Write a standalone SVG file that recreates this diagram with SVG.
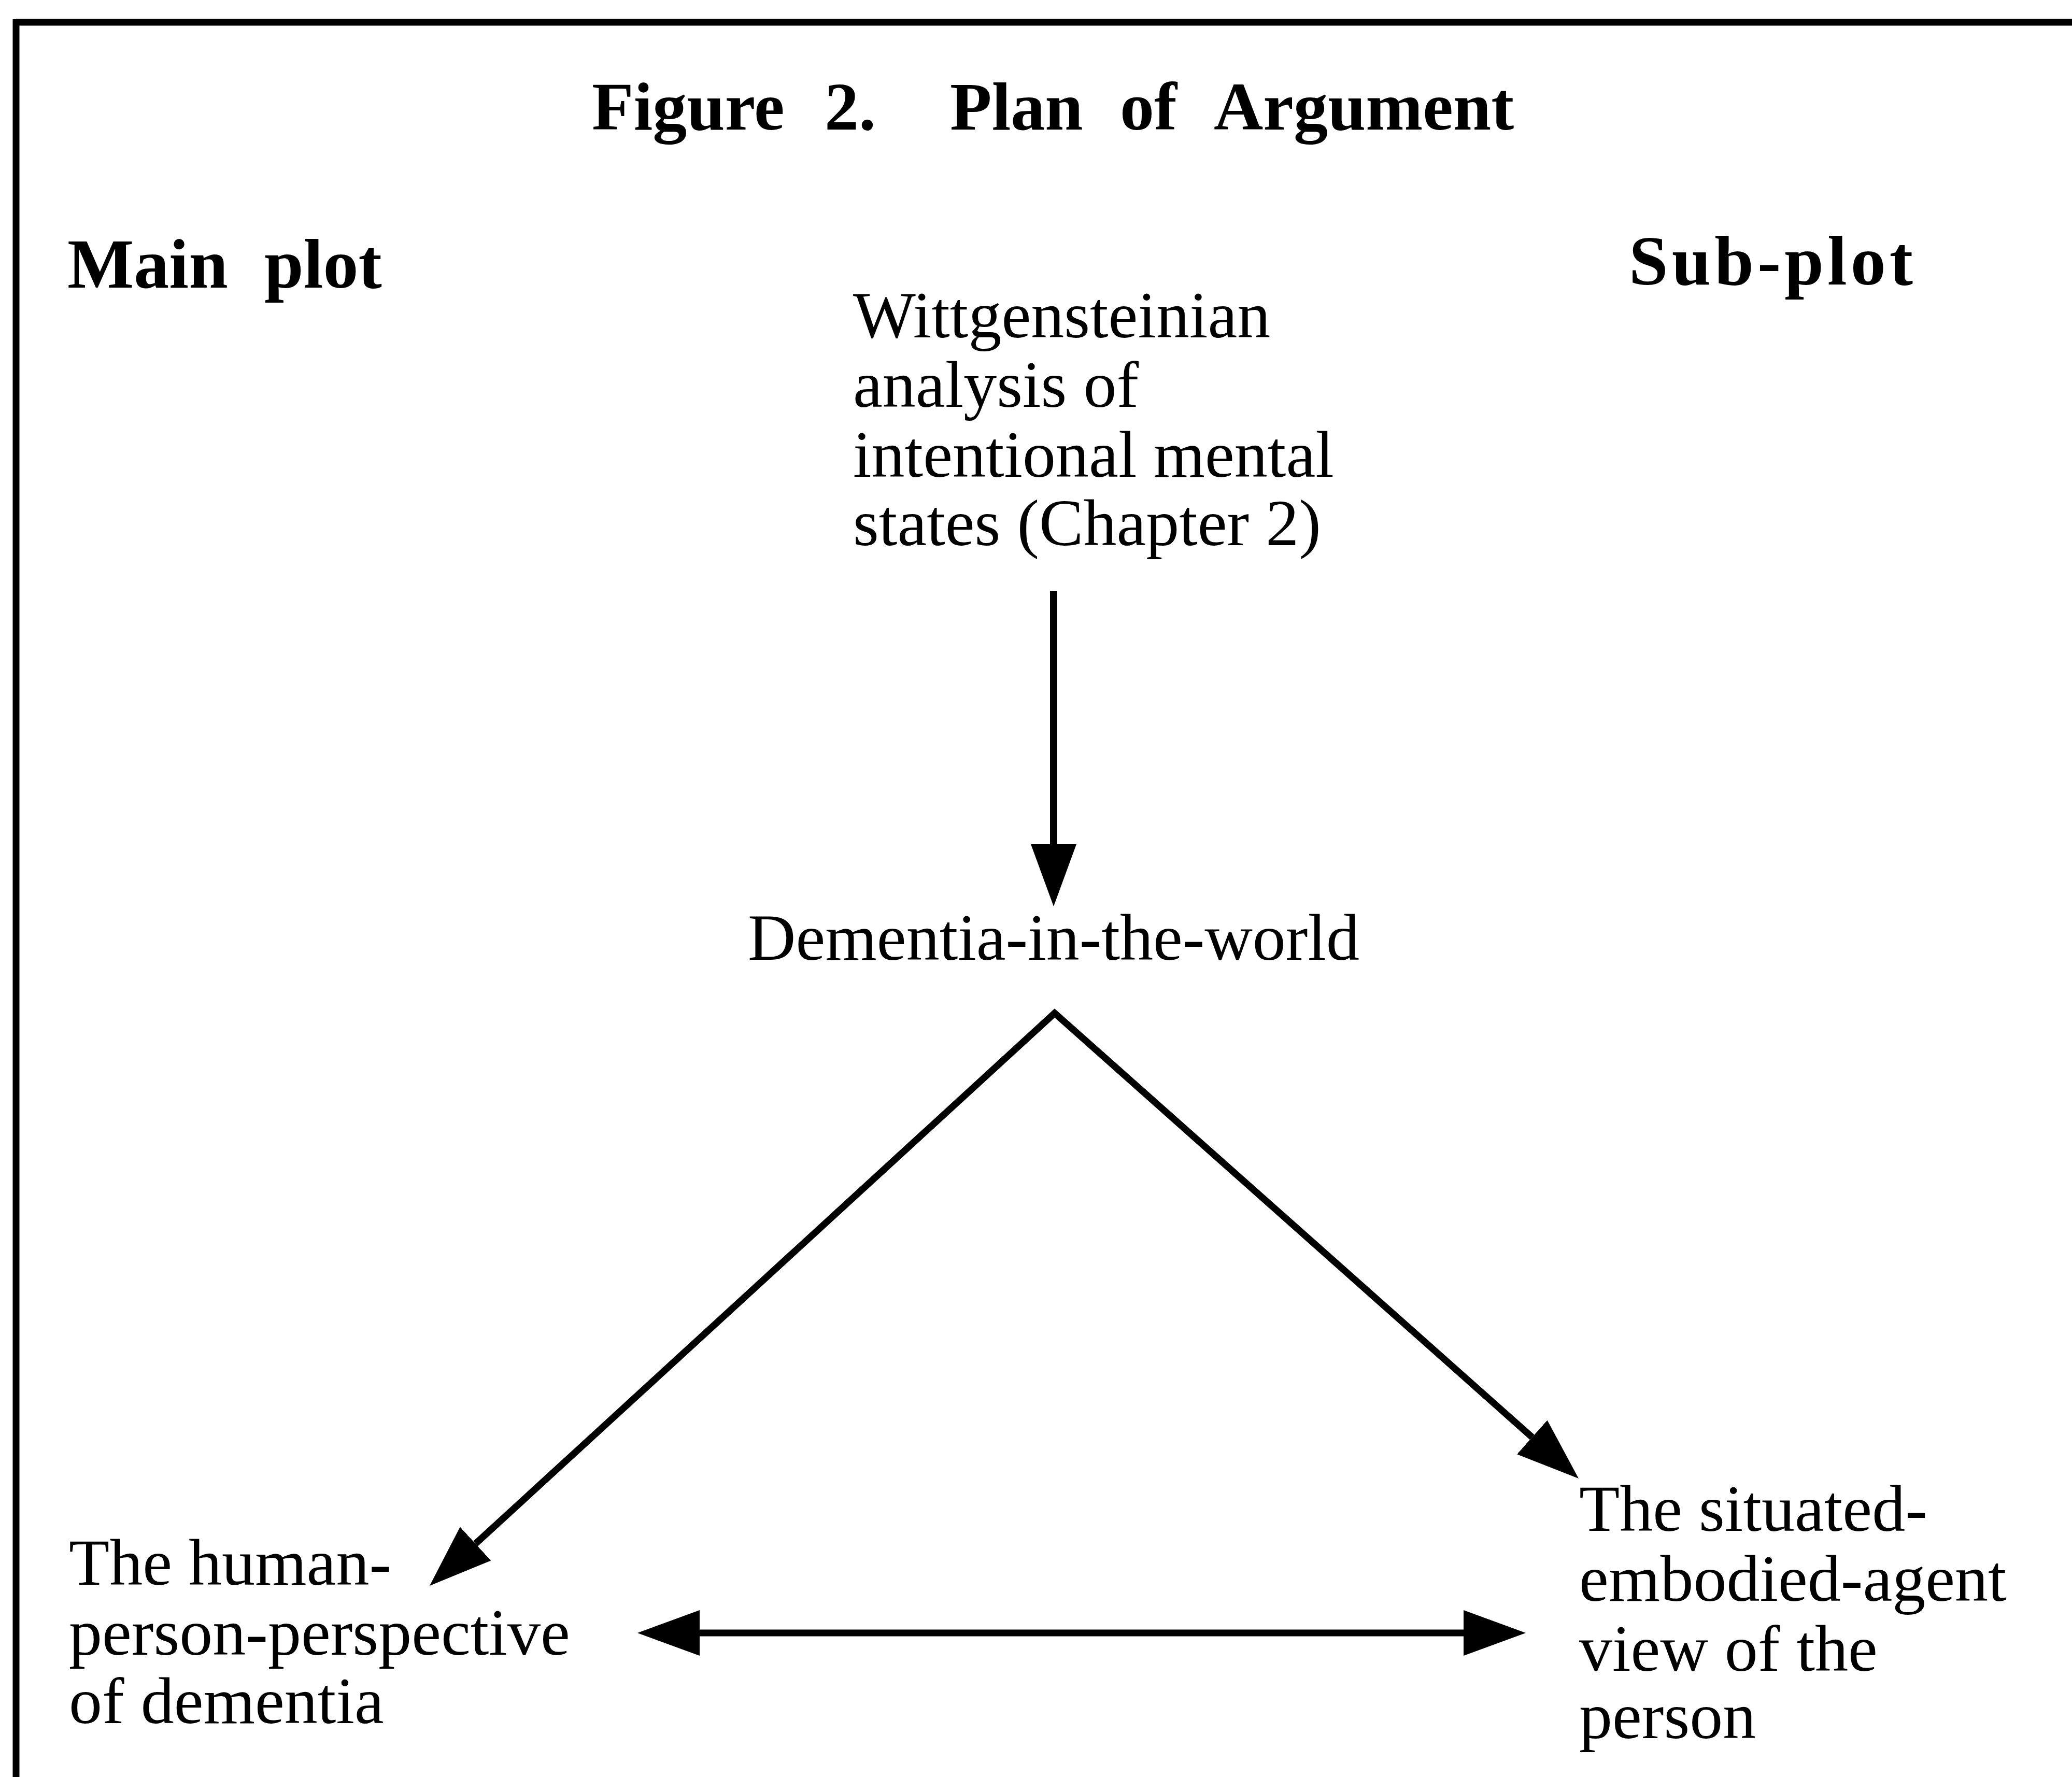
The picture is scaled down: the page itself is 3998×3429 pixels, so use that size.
<svg xmlns="http://www.w3.org/2000/svg" width="3998" height="3429" viewBox="0 0 3998 3429">
<style>
.bg{fill:#ffffff}
.frame{stroke:#000;stroke-width:13;fill:none}
.t{font-family:"Liberation Serif","Times New Roman",serif;font-size:128px;fill:#000}
.b{font-family:"Liberation Serif","Times New Roman",serif;font-weight:bold;fill:#000}
.edge{stroke:#000;stroke-width:13;fill:none;stroke-linejoin:miter}
</style>
<defs>
<marker id="head" viewBox="0 0 120 88" refX="0" refY="44" markerWidth="120" markerHeight="88" markerUnits="userSpaceOnUse" orient="auto-start-reverse">
<path d="M0,0 L120,44 L0,88 z" fill="#000"/>
</marker>
</defs>
<rect class="bg" x="0" y="0" width="3998" height="3429"/>
<g id="frame">
<line class="frame" x1="31" y1="43" x2="3998" y2="43"/>
<line class="frame" x1="31" y1="37" x2="31" y2="3429"/>
</g>
<g id="title">
<text class="b" font-size="132" y="250"><tspan x="1142">Figure</tspan><tspan x="1591">2.</tspan><tspan x="1833">Plan</tspan><tspan x="2161">of</tspan><tspan x="2342">Argument</tspan></text>
</g>
<g id="main-plot-label">
<text class="b" font-size="136" y="555"><tspan x="130">Main</tspan><tspan x="510">plot</tspan></text>
</g>
<g id="sub-plot-label">
<text class="b" font-size="136" x="3143" y="549" textLength="548" lengthAdjust="spacing">Sub-plot</text>
</g>
<g id="node-wittgenstein">
<text class="t" x="1646"><tspan x="1646" y="651">Wittgensteinian</tspan><tspan x="1646" y="785">analysis of</tspan><tspan x="1646" y="920">intentional mental</tspan><tspan x="1646" y="1052">states (Chapter 2)</tspan></text>
</g>
<g id="node-dementia">
<text class="t" x="1443" y="1852">Dementia-in-the-world</text>
</g>
<g id="node-human-person">
<text class="t"><tspan x="133" y="3058">The human-</tspan><tspan x="133" y="3193">person-perspective</tspan><tspan x="133" y="3325">of dementia</tspan></text>
</g>
<g id="node-situated-agent">
<text class="t"><tspan x="3047" y="2954">The situated-</tspan><tspan x="3047" y="3089">embodied-agent</tspan><tspan x="3047" y="3224">view of the</tspan><tspan x="3047" y="3354">person</tspan></text>
</g>
<g id="connectors">
<path class="edge" style="stroke-width:14" d="M2033,1140 L2033,1629" marker-end="url(#head)"/>
<path class="edge" d="M917.5,2978.9 L2035,1955 L2956.3,2773.3" marker-start="url(#head)" marker-end="url(#head)"/>
<path class="edge" d="M1350,3151 L2824,3151" marker-start="url(#head)" marker-end="url(#head)"/>
</g>
</svg>
